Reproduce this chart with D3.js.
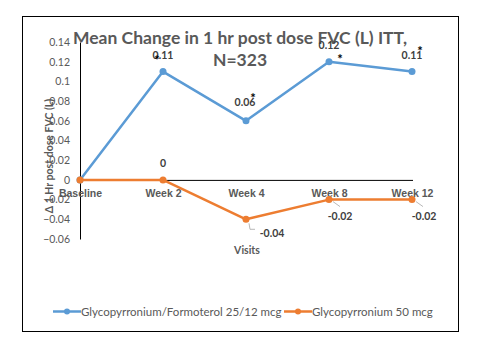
<!DOCTYPE html>
<html>
<head>
<meta charset="utf-8">
<script src="https://cdn.jsdelivr.net/npm/d3@7"></script>
<style>
  body { margin: 0; background: #fff; }
  svg { font-family: Lato, "Open Sans", sans-serif; }
</style>
</head>
<body>
<svg id="chart" width="477" height="341"></svg>
<script>
const visits = ['Baseline', 'Week 2', 'Week 4', 'Week 8', 'Week 12'];
const comboValues = [0, 0.11, 0.06, 0.12, 0.11];
const monoValues = [0, 0, -0.04, -0.02, -0.02];
const yTicks = [-0.06, -0.04, -0.02, 0, 0.02, 0.04, 0.06, 0.08, 0.1, 0.12, 0.14];
const seriesNames = ['Glycopyrronium/Formoterol 25/12 mcg', 'Glycopyrronium 50 mcg'];
const seriesColors = ['#5b9bd5', '#ed7d31'];
// which points get a significance star
const comboStars = [false, true, true, true, true];

const svg = d3.select('#chart');

svg.append('rect').attr('x', 22.5).attr('y', 16.5).attr('width', 436).attr('height', 315)
    .attr('fill', '#fff').attr('stroke', '#000').attr('stroke-width', 1);

const x = d3.scalePoint().domain(visits).range([80, 412]);
const y = d3.scaleLinear().domain([-0.06, 0.14]).range([239, 42]);

// y axis
const yAxis = svg.append('g').attr('transform', 'translate(80,0)')
    .call(d3.axisLeft(y).tickValues(yTicks).tickSize(0).tickPadding(10)
        .tickFormat(d => d3.format('')(+d.toFixed(2))));
yAxis.select('.domain').attr('stroke', '#000');
yAxis.selectAll('text').attr('fill', '#595959').style('font-size', '10.5px').style('font-family', 'Lato, sans-serif');

// zero line with category labels
const xAxis = svg.append('g').attr('transform', 'translate(0,' + y(0) + ')')
    .call(d3.axisBottom(x).tickSize(0).tickPadding(10));
xAxis.select('.domain').attr('stroke', '#000').attr('d', 'M80,0.5H413');
xAxis.selectAll('text').attr('fill', '#595959').style('font-size', '10.5px').style('font-weight', 'bold');

// titles
svg.append('text').attr('x', 240).attr('y', 44).attr('text-anchor', 'middle')
    .attr('fill', '#595959').style('font-size', '17.5px').style('font-weight', 'bold')
    .text('Mean Change in 1 hr post dose FVC (L) ITT,');
svg.append('text').attr('x', 240).attr('y', 66).attr('text-anchor', 'middle')
    .attr('fill', '#595959').style('font-size', '17.5px').style('font-weight', 'bold')
    .text('N=323');
svg.append('text').attr('x', 247).attr('y', 254).attr('text-anchor', 'middle')
    .attr('fill', '#595959').style('font-size', '10.5px').style('font-weight', 'bold')
    .text('Visits');
svg.append('text').attr('transform', 'translate(53,156) rotate(-90)').attr('text-anchor', 'middle')
    .attr('fill', '#595959').style('font-size', '10.5px').style('font-weight', 'bold')
    .text('Δ 1 Hr post dose FVC (L)');

const line = d3.line().x((d, i) => x(visits[i])).y(d => y(d));
[comboValues, monoValues].forEach((vals, s) => {
    svg.append('path').datum(vals).attr('d', line).attr('fill', 'none')
        .attr('stroke', seriesColors[s]).attr('stroke-width', 2.5).attr('stroke-linejoin', 'round');
    svg.selectAll('.pt' + s).data(vals).enter().append('circle')
        .attr('cx', (d, i) => x(visits[i])).attr('cy', d => y(d)).attr('r', 3.5)
        .attr('fill', seriesColors[s]);
});

// data labels: [dx, baseline dy] from the point, picked by eye
const comboLabelOff = [null, [0, -13], [-1, -15], [0, -13], [0, -13]];
// star centres relative to the point
const comboStarOff = [null, [-6, -14], [7, -25], [11, -5], [8, -23]];
comboValues.forEach((v, i) => {
    if (!comboLabelOff[i]) return;
    svg.append('text').attr('x', x(visits[i]) + comboLabelOff[i][0]).attr('y', y(v) + comboLabelOff[i][1])
        .attr('text-anchor', 'middle').attr('fill', '#404040').style('font-size', '10.5px').style('font-weight', 'bold')
        .text(v);
    if (comboStars[i]) {
        svg.append('text').attr('x', x(visits[i]) + comboStarOff[i][0]).attr('y', y(v) + comboStarOff[i][1] + 7)
            .attr('text-anchor', 'middle').attr('fill', '#000').style('font-size', '13px').style('font-weight', 'bold')
            .text('*');
    }
});
const monoLabelOff = [null, [0, -13], [26, 18], [11, 20], [12, 20]];
monoValues.forEach((v, i) => {
    if (!monoLabelOff[i]) return;
    const px = x(visits[i]), py = y(v);
    if (i >= 2) {
        // leader line
        const pts = i === 2 ? [[px + 3, py + 4], [px + 4, py + 10], [px + 9, py + 10]] : [[px + 4, py + 2], [px + 11, py + 7]];
        svg.append('path').attr('d', d3.line()(pts)).attr('fill', 'none').attr('stroke', '#a6a6a6').attr('stroke-width', 0.8);
    }
    svg.append('text').attr('x', px + monoLabelOff[i][0]).attr('y', py + monoLabelOff[i][1])
        .attr('text-anchor', 'middle').attr('fill', '#404040').style('font-size', '10.5px').style('font-weight', 'bold')
        .text(v === 0 ? '0' : v);
});

// legend
const legendX = [53, 284];
seriesNames.forEach((name, s) => {
    const g = svg.append('g').attr('transform', 'translate(' + legendX[s] + ',311.5)');
    g.append('line').attr('x1', 0).attr('x2', 28).attr('stroke', seriesColors[s]).attr('stroke-width', 2.5);
    g.append('circle').attr('cx', 14).attr('r', 3).attr('fill', seriesColors[s]);
    g.append('text').attr('x', 28).attr('y', 4).attr('fill', '#595959').style('font-size', '11.5px').text(name);
});
</script>
</body>
</html>
